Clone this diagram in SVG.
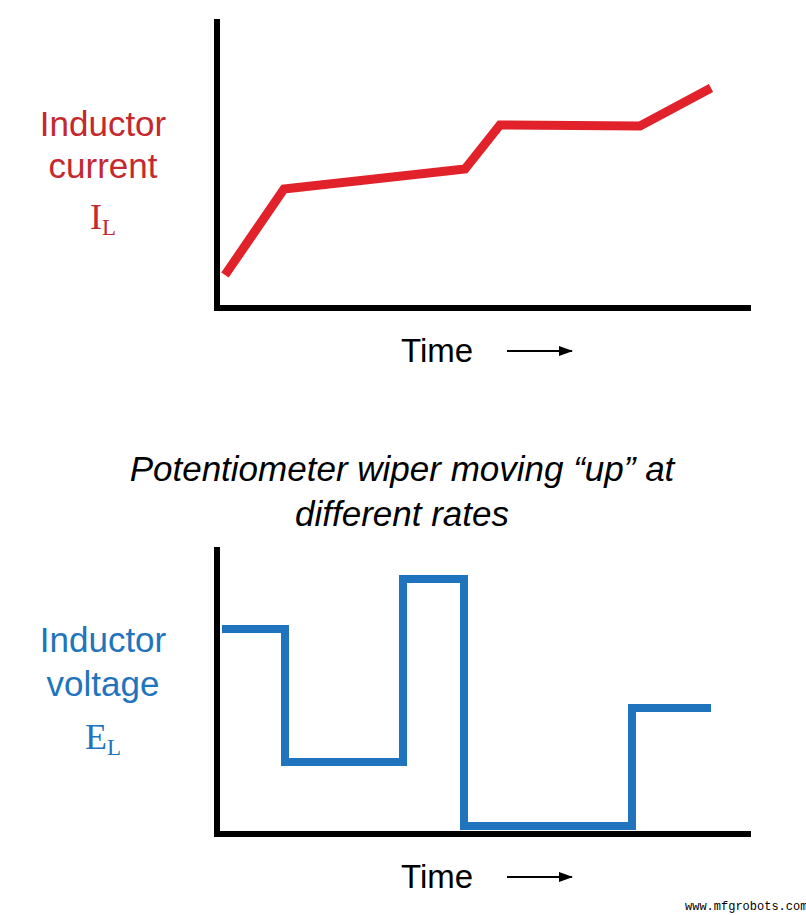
<svg xmlns="http://www.w3.org/2000/svg" width="806" height="915" viewBox="0 0 806 915">
<style>
.ax{fill:none;stroke:#000;stroke-width:6;stroke-linecap:square}
.lbl{font-family:"Liberation Sans",Arial,sans-serif;font-size:35px;text-anchor:middle}
.sub{font-family:"Liberation Serif","Times New Roman",serif;text-anchor:middle}
.time{font-family:"Liberation Sans",Arial,sans-serif;font-size:33px;fill:#000}
.arr{stroke:#000;stroke-width:2}
.cap{font-family:"Liberation Sans",Arial,sans-serif;font-size:35px;font-style:italic;text-anchor:middle}
</style>
<defs><marker id="ah" markerWidth="14" markerHeight="10" refX="13" refY="5" orient="auto" markerUnits="userSpaceOnUse"><path d="M0,0 L14,5 L0,10 Z" fill="#000"/></marker></defs>
<rect width="806" height="915" fill="#fff"/>
<g id="top-graph">
<path class="ax" d="M217,22 V308 H748"/>
<polyline points="225,275 284,189 465,169 500,125 640,126 711,88" fill="none" stroke="#e2222a" stroke-width="9"/>
<text class="lbl" x="103" y="136" fill="#c5282e">Inductor</text>
<text class="lbl" x="103" y="178" fill="#c5282e">current</text>
<text class="sub" x="103" y="229" fill="#c5282e" font-size="36">I<tspan font-size="23" dy="6">L</tspan></text>
<text class="time" x="401" y="362">Time</text>
<line class="arr" x1="507" y1="351" x2="572" y2="351" marker-end="url(#ah)"/>
</g>
<g id="caption">
<text class="cap" x="402" y="481">Potentiometer wiper moving “up” at</text>
<text class="cap" x="402" y="526">different rates</text>
</g>
<g id="bottom-graph">
<path class="ax" d="M217,550 V834 H748"/>
<polyline points="222,629 285,629 285,762 403,762 403,579 464,579 464,826 632,826 632,708 711,708" fill="none" stroke="#1f74bd" stroke-width="8"/>
<text class="lbl" x="103" y="652" fill="#1f74bd">Inductor</text>
<text class="lbl" x="103" y="696" fill="#1f74bd">voltage</text>
<text class="sub" x="103" y="749" fill="#1f74bd" font-size="36">E<tspan font-size="23" dy="6">L</tspan></text>
<text class="time" x="401" y="888">Time</text>
<line class="arr" x1="507" y1="877" x2="572" y2="877" marker-end="url(#ah)"/>
</g>
<text x="685" y="910" font-family="'Liberation Mono',monospace" font-size="12" fill="#000">www.mfgrobots.com</text>
</svg>
